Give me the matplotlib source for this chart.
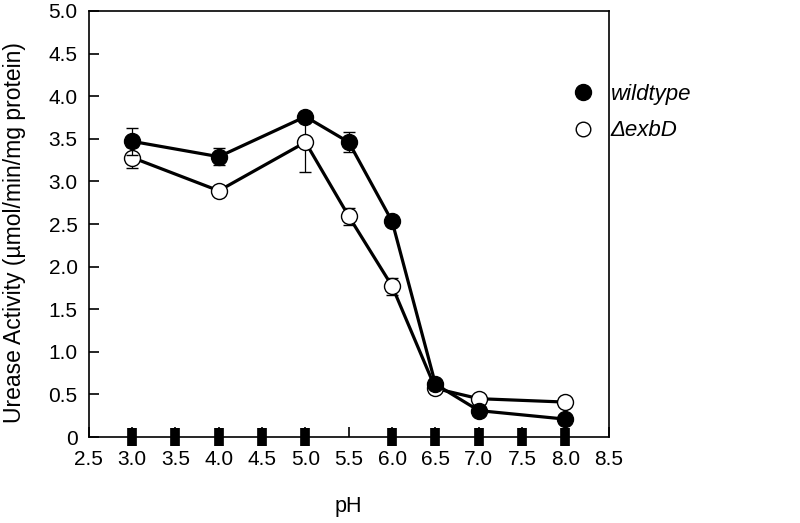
import numpy as np
import matplotlib
matplotlib.use('Agg')
import matplotlib.pyplot as plt
from matplotlib.ticker import FuncFormatter
from matplotlib.lines import Line2D

plt.rcParams['font.family'] = ['Liberation Sans', 'DejaVu Sans']

ph = [3.0, 4.0, 5.0, 5.5, 6.0, 6.5, 7.0, 8.0]
wildtype = [3.47, 3.29, 3.76, 3.46, 2.53, 0.62, 0.31, 0.21]
wildtype_err = [0.16, 0.10, 0.0, 0.12, 0.04, 0.03, 0.03, 0.02]
exbd = [3.28, 2.89, 3.46, 2.59, 1.77, 0.57, 0.45, 0.41]
exbd_err = [0.12, 0.03, 0.35, 0.10, 0.10, 0.03, 0.02, 0.02]

ctrl_ph = [3.0, 3.5, 4.0, 4.5, 5.0, 6.0, 6.5, 7.0, 7.5, 8.0]
ctrl = [0, 0, 0, 0, 0, 0, 0, 0, 0, 0]

fig = plt.figure(figsize=(8, 5.23), dpi=100)
ax = fig.add_axes([0.111, 0.1644, 0.65, 0.8146])

ax.errorbar(ph, exbd, yerr=exbd_err, color='black', lw=2.3, marker='o', ms=11.5,
            mfc='white', mec='black', mew=1.0, ecolor='black', elinewidth=0.9,
            capsize=4, capthick=0.9, zorder=3)
ax.errorbar(ph, wildtype, yerr=wildtype_err, color='black', lw=2.3, marker='o', ms=11.5,
            mfc='black', mec='black', mew=1.0, ecolor='black', elinewidth=0.9,
            capsize=4, capthick=0.9, zorder=4)

# control series sitting on the x axis
ax.plot(ctrl_ph, ctrl, ls='none', marker='|', ms=12.5, mew=7, color='black',
        clip_on=False, zorder=5)

ax.set_xlim(2.5, 8.5)
ax.set_ylim(0, 5.0)
ax.set_xticks(np.arange(2.5, 8.51, 0.5))
ax.set_yticks(np.arange(0, 5.01, 0.5))
ax.yaxis.set_major_formatter(FuncFormatter(lambda v, p: '0' if v == 0 else f'{v:.1f}'))
ax.xaxis.set_major_formatter(FuncFormatter(lambda v, p: f'{v:.1f}'))
ax.tick_params(direction='in', length=7, width=1.2, labelsize=15)
ax.tick_params(axis='x', pad=9)
ax.tick_params(axis='y', pad=8)
for s in ax.spines.values():
    s.set_linewidth(1.2)

ax.set_xlabel('pH', fontsize=15.5, labelpad=20)
ax.set_ylabel('Urease Activity (µmol/min/mg protein)', fontsize=16.5, labelpad=12)
ax.yaxis.set_label_coords(-0.12, 0.48)

hw = Line2D([], [], ls='none', marker='o', ms=11.5, mfc='black', mec='black')
he = Line2D([], [], ls='none', marker='o', ms=10.5, mfc='white', mec='black', mew=1.0)
leg = fig.legend([hw, he], ['wildtype', 'ΔexbD'], loc='upper left',
                 bbox_to_anchor=(0.69, 0.878), frameon=False, fontsize=16,
                 handletextpad=0.75, labelspacing=0.7, handlelength=1.0)
for t in leg.get_texts():
    t.set_fontstyle('italic')

fig.savefig('out.png', dpi=100)
